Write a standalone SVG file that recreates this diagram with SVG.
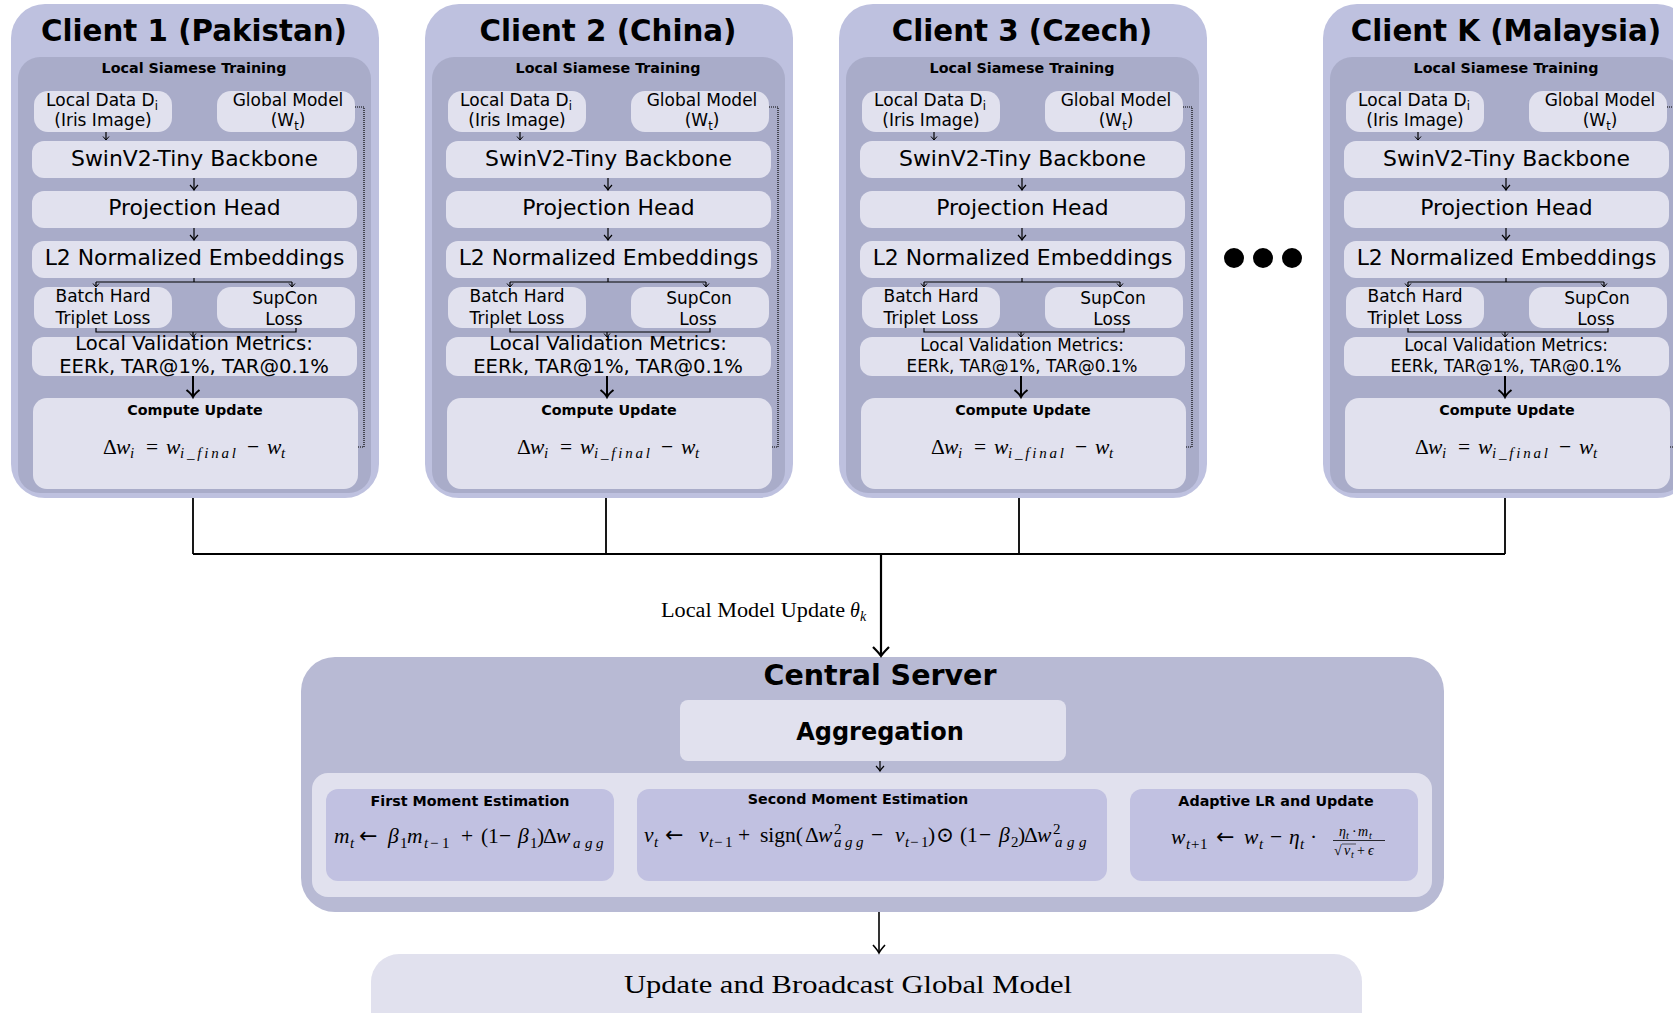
<svg xmlns="http://www.w3.org/2000/svg" width="1673" height="1013" viewBox="0 0 1673 1013">
  <style>
    .c-outer { fill: #bec1df; }
    .c-inner { fill: #a9acc9; }
    .node { fill: #e1e1ee; }
    .srv { fill: #b8bad4; }
    .panel { fill: #e1e1ee; }
    .moment { fill: #c1c1e1; }
    text { fill: #000; font-family: "DejaVu Sans", Verdana, sans-serif; }
    .h1 { font-size: 29.3px; font-weight: bold; text-anchor: middle; }
    .h2 { font-size: 24px; font-weight: bold; text-anchor: middle; }
    .h3 { font-size: 14.3px; font-weight: bold; text-anchor: middle; }
    .lbl { font-size: 21.9px; text-anchor: middle; }
    .lbl-s { font-size: 17px; text-anchor: middle; }
    .lbl-v { font-size: 19.6px; text-anchor: middle; }
    .lbl-vs { font-size: 16.8px; text-anchor: middle; }
    .sub { font-size: 11.5px; }
    .math, .serif { font-family: "Liberation Serif", "DejaVu Serif", serif; }
    .math { font-size: 21.5px; font-style: italic; }
    .math .rm { font-style: normal; }
    .math .s { font-size: 15px; }
    .math .f { font-size: 14px; }
    .math .ff { font-size: 10px; }
    .math .arr { font-family: "DejaVu Sans", sans-serif; font-style: normal; font-size: 22px; }
    .ln { fill: none; stroke: #000; stroke-width: 1.2; }
    .ln-thick { fill: none; stroke: #000; stroke-width: 2; }
    .bus { fill: none; stroke: #000; stroke-width: 1.8; }
    .dots { fill: none; stroke: #000; stroke-width: 1.2; stroke-dasharray: 1 1; }
  </style>
  <defs>
    <marker id="tipS" markerUnits="userSpaceOnUse" viewBox="-6 -5 7 10" refX="0" refY="0" markerWidth="7" markerHeight="10" orient="auto" overflow="visible">
      <path d="M-3.5,-3 L0,0 L-3.5,3" fill="none" stroke="#000" stroke-width="1"/>
    </marker>
    <marker id="tip" markerUnits="userSpaceOnUse" viewBox="-6 -5 7 10" refX="0" refY="0" markerWidth="7" markerHeight="10" orient="auto" overflow="visible">
      <path d="M-5,-4 Q-2,-1 0,0 Q-2,1 -5,4" fill="none" stroke="#000" stroke-width="1.2"/>
    </marker>
    <marker id="tipL" markerUnits="userSpaceOnUse" viewBox="-8 -7 9 14" refX="0" refY="0" markerWidth="9" markerHeight="14" orient="auto" overflow="visible">
      <path d="M-7,-6.5 Q-3,-1.5 0,0 Q-3,1.5 -7,6.5" fill="none" stroke="#000" stroke-width="2"/>
    </marker>
    <marker id="tipM" markerUnits="userSpaceOnUse" viewBox="-9 -7 10 14" refX="0" refY="0" markerWidth="10" markerHeight="14" orient="auto" overflow="visible">
      <path d="M-8,-6 Q-3,-1.5 0,0 Q-3,1.5 -8,6" fill="none" stroke="#000" stroke-width="1.6"/>
    </marker>
    <marker id="tipXL" markerUnits="userSpaceOnUse" viewBox="-10 -9 11 18" refX="0" refY="0" markerWidth="11" markerHeight="18" orient="auto" overflow="visible">
      <path d="M-9,-8 Q-3,-2 0,0 Q-3,2 -9,8" fill="none" stroke="#000" stroke-width="2.2"/>
    </marker>
  </defs>

  <rect width="1673" height="1013" fill="#fff"/>

  <!-- ===== Client 1 ===== -->
  <g id="client-1">
    <rect class="c-outer" x="11" y="4" width="368" height="494" rx="34"/>
    <text class="h1" x="194" y="41">Client 1 (Pakistan)</text>
    <g id="c1-local-training">
      <rect class="c-inner" x="18" y="57" width="353" height="436" rx="22"/>
      <text class="h3" x="194" y="73">Local Siamese Training</text>
    </g>
    <g id="c1-local-data"><rect class="node" x="34" y="91" width="138" height="41" rx="14"/><text class="lbl-s" x="102" y="106">Local Data D<tspan class="sub" dy="3.5">i</tspan></text><text class="lbl-s" x="103" y="126">(Iris Image)</text></g>
    <g id="c1-global-model"><rect class="node" x="217" y="91" width="138" height="41" rx="14"/><text class="lbl-s" x="288" y="106">Global Model</text><text class="lbl-s" x="288" y="126">(W<tspan class="sub" dy="3.5">t</tspan><tspan dy="-3.5">)</tspan></text></g>
    <g id="c1-backbone"><rect class="node" x="32" y="141" width="325" height="37" rx="12"/><text class="lbl" x="194.5" y="166">SwinV2-Tiny Backbone</text></g>
    <g id="c1-projection"><rect class="node" x="32" y="191" width="325" height="37" rx="12"/><text class="lbl" x="194.5" y="215">Projection Head</text></g>
    <g id="c1-embeddings"><rect class="node" x="32" y="241" width="325" height="37" rx="12"/><text class="lbl" x="194.5" y="265">L2 Normalized Embeddings</text></g>
    <g id="c1-triplet"><rect class="node" x="34" y="287" width="138" height="41" rx="14"/><text class="lbl-s" x="103" y="302">Batch Hard</text><text class="lbl-s" x="103" y="324">Triplet Loss</text></g>
    <g id="c1-supcon"><rect class="node" x="217" y="287" width="138" height="41" rx="14"/><text class="lbl-s" x="285" y="304">SupCon</text><text class="lbl-s" x="284" y="325">Loss</text></g>
    <g id="c1-validation"><rect class="node" x="32" y="337" width="325" height="39" rx="12"/><text class="lbl-v" x="194" y="350">Local Validation Metrics:</text><text class="lbl-v" x="194" y="373">EERk, TAR@1%, TAR@0.1%</text></g>
    <g id="c1-compute"><rect class="node" x="33" y="398" width="325" height="91" rx="14"/><text class="h3" x="195" y="415">Compute Update</text>
      <text class="math" y="454"><tspan x="103" class="rm">Δ</tspan><tspan x="116">w</tspan><tspan x="130" dy="4" class="s">i</tspan><tspan x="146" dy="-4" class="rm">=</tspan><tspan x="166">w</tspan><tspan x="180" dy="4" class="s" letter-spacing="2.8">i_final</tspan><tspan x="247" dy="-4" class="rm">−</tspan><tspan x="267">w</tspan><tspan x="281" dy="4" class="s">t</tspan></text>
    </g>
  </g>

  <!-- ===== Client 2 ===== -->
  <g id="client-2" transform="translate(414,0)">
    <rect class="c-outer" x="11" y="4" width="368" height="494" rx="34"/>
    <text class="h1" x="194" y="41">Client 2 (China)</text>
    <g id="c2-local-training">
      <rect class="c-inner" x="18" y="57" width="353" height="436" rx="22"/>
      <text class="h3" x="194" y="73">Local Siamese Training</text>
    </g>
    <g id="c2-local-data"><rect class="node" x="34" y="91" width="138" height="41" rx="14"/><text class="lbl-s" x="102" y="106">Local Data D<tspan class="sub" dy="3.5">i</tspan></text><text class="lbl-s" x="103" y="126">(Iris Image)</text></g>
    <g id="c2-global-model"><rect class="node" x="217" y="91" width="138" height="41" rx="14"/><text class="lbl-s" x="288" y="106">Global Model</text><text class="lbl-s" x="288" y="126">(W<tspan class="sub" dy="3.5">t</tspan><tspan dy="-3.5">)</tspan></text></g>
    <g id="c2-backbone"><rect class="node" x="32" y="141" width="325" height="37" rx="12"/><text class="lbl" x="194.5" y="166">SwinV2-Tiny Backbone</text></g>
    <g id="c2-projection"><rect class="node" x="32" y="191" width="325" height="37" rx="12"/><text class="lbl" x="194.5" y="215">Projection Head</text></g>
    <g id="c2-embeddings"><rect class="node" x="32" y="241" width="325" height="37" rx="12"/><text class="lbl" x="194.5" y="265">L2 Normalized Embeddings</text></g>
    <g id="c2-triplet"><rect class="node" x="34" y="287" width="138" height="41" rx="14"/><text class="lbl-s" x="103" y="302">Batch Hard</text><text class="lbl-s" x="103" y="324">Triplet Loss</text></g>
    <g id="c2-supcon"><rect class="node" x="217" y="287" width="138" height="41" rx="14"/><text class="lbl-s" x="285" y="304">SupCon</text><text class="lbl-s" x="284" y="325">Loss</text></g>
    <g id="c2-validation"><rect class="node" x="32" y="337" width="325" height="39" rx="12"/><text class="lbl-v" x="194" y="350">Local Validation Metrics:</text><text class="lbl-v" x="194" y="373">EERk, TAR@1%, TAR@0.1%</text></g>
    <g id="c2-compute"><rect class="node" x="33" y="398" width="325" height="91" rx="14"/><text class="h3" x="195" y="415">Compute Update</text>
      <text class="math" y="454"><tspan x="103" class="rm">Δ</tspan><tspan x="116">w</tspan><tspan x="130" dy="4" class="s">i</tspan><tspan x="146" dy="-4" class="rm">=</tspan><tspan x="166">w</tspan><tspan x="180" dy="4" class="s" letter-spacing="2.8">i_final</tspan><tspan x="247" dy="-4" class="rm">−</tspan><tspan x="267">w</tspan><tspan x="281" dy="4" class="s">t</tspan></text>
    </g>
  </g>

  <!-- ===== Client 3 ===== -->
  <g id="client-3" transform="translate(828,0)">
    <rect class="c-outer" x="11" y="4" width="368" height="494" rx="34"/>
    <text class="h1" x="194" y="41">Client 3 (Czech)</text>
    <g id="c3-local-training">
      <rect class="c-inner" x="18" y="57" width="353" height="436" rx="22"/>
      <text class="h3" x="194" y="73">Local Siamese Training</text>
    </g>
    <g id="c3-local-data"><rect class="node" x="34" y="91" width="138" height="41" rx="14"/><text class="lbl-s" x="102" y="106">Local Data D<tspan class="sub" dy="3.5">i</tspan></text><text class="lbl-s" x="103" y="126">(Iris Image)</text></g>
    <g id="c3-global-model"><rect class="node" x="217" y="91" width="138" height="41" rx="14"/><text class="lbl-s" x="288" y="106">Global Model</text><text class="lbl-s" x="288" y="126">(W<tspan class="sub" dy="3.5">t</tspan><tspan dy="-3.5">)</tspan></text></g>
    <g id="c3-backbone"><rect class="node" x="32" y="141" width="325" height="37" rx="12"/><text class="lbl" x="194.5" y="166">SwinV2-Tiny Backbone</text></g>
    <g id="c3-projection"><rect class="node" x="32" y="191" width="325" height="37" rx="12"/><text class="lbl" x="194.5" y="215">Projection Head</text></g>
    <g id="c3-embeddings"><rect class="node" x="32" y="241" width="325" height="37" rx="12"/><text class="lbl" x="194.5" y="265">L2 Normalized Embeddings</text></g>
    <g id="c3-triplet"><rect class="node" x="34" y="287" width="138" height="41" rx="14"/><text class="lbl-s" x="103" y="302">Batch Hard</text><text class="lbl-s" x="103" y="324">Triplet Loss</text></g>
    <g id="c3-supcon"><rect class="node" x="217" y="287" width="138" height="41" rx="14"/><text class="lbl-s" x="285" y="304">SupCon</text><text class="lbl-s" x="284" y="325">Loss</text></g>
    <g id="c3-validation"><rect class="node" x="32" y="337" width="325" height="39" rx="12"/><text class="lbl-vs" x="194" y="351">Local Validation Metrics:</text><text class="lbl-vs" x="194" y="372">EERk, TAR@1%, TAR@0.1%</text></g>
    <g id="c3-compute"><rect class="node" x="33" y="398" width="325" height="91" rx="14"/><text class="h3" x="195" y="415">Compute Update</text>
      <text class="math" y="454"><tspan x="103" class="rm">Δ</tspan><tspan x="116">w</tspan><tspan x="130" dy="4" class="s">i</tspan><tspan x="146" dy="-4" class="rm">=</tspan><tspan x="166">w</tspan><tspan x="180" dy="4" class="s" letter-spacing="2.8">i_final</tspan><tspan x="247" dy="-4" class="rm">−</tspan><tspan x="267">w</tspan><tspan x="281" dy="4" class="s">t</tspan></text>
    </g>
  </g>

  <!-- more clients elided -->
  <g id="ellipsis">
    <circle cx="1234" cy="258" r="10"/>
    <circle cx="1263" cy="258" r="10"/>
    <circle cx="1292" cy="258" r="10"/>
  </g>

  <!-- ===== Client K ===== -->
  <g id="client-k" transform="translate(1312,0)">
    <rect class="c-outer" x="11" y="4" width="368" height="494" rx="34"/>
    <text class="h1" x="194" y="41">Client K (Malaysia)</text>
    <g id="ck-local-training">
      <rect class="c-inner" x="18" y="57" width="353" height="436" rx="22"/>
      <text class="h3" x="194" y="73">Local Siamese Training</text>
    </g>
    <g id="ck-local-data"><rect class="node" x="34" y="91" width="138" height="41" rx="14"/><text class="lbl-s" x="102" y="106">Local Data D<tspan class="sub" dy="3.5">i</tspan></text><text class="lbl-s" x="103" y="126">(Iris Image)</text></g>
    <g id="ck-global-model"><rect class="node" x="217" y="91" width="138" height="41" rx="14"/><text class="lbl-s" x="288" y="106">Global Model</text><text class="lbl-s" x="288" y="126">(W<tspan class="sub" dy="3.5">t</tspan><tspan dy="-3.5">)</tspan></text></g>
    <g id="ck-backbone"><rect class="node" x="32" y="141" width="325" height="37" rx="12"/><text class="lbl" x="194.5" y="166">SwinV2-Tiny Backbone</text></g>
    <g id="ck-projection"><rect class="node" x="32" y="191" width="325" height="37" rx="12"/><text class="lbl" x="194.5" y="215">Projection Head</text></g>
    <g id="ck-embeddings"><rect class="node" x="32" y="241" width="325" height="37" rx="12"/><text class="lbl" x="194.5" y="265">L2 Normalized Embeddings</text></g>
    <g id="ck-triplet"><rect class="node" x="34" y="287" width="138" height="41" rx="14"/><text class="lbl-s" x="103" y="302">Batch Hard</text><text class="lbl-s" x="103" y="324">Triplet Loss</text></g>
    <g id="ck-supcon"><rect class="node" x="217" y="287" width="138" height="41" rx="14"/><text class="lbl-s" x="285" y="304">SupCon</text><text class="lbl-s" x="284" y="325">Loss</text></g>
    <g id="ck-validation"><rect class="node" x="32" y="337" width="325" height="39" rx="12"/><text class="lbl-vs" x="194" y="351">Local Validation Metrics:</text><text class="lbl-vs" x="194" y="372">EERk, TAR@1%, TAR@0.1%</text></g>
    <g id="ck-compute"><rect class="node" x="33" y="398" width="325" height="91" rx="14"/><text class="h3" x="195" y="415">Compute Update</text>
      <text class="math" y="454"><tspan x="103" class="rm">Δ</tspan><tspan x="116">w</tspan><tspan x="130" dy="4" class="s">i</tspan><tspan x="146" dy="-4" class="rm">=</tspan><tspan x="166">w</tspan><tspan x="180" dy="4" class="s" letter-spacing="2.8">i_final</tspan><tspan x="247" dy="-4" class="rm">−</tspan><tspan x="267">w</tspan><tspan x="281" dy="4" class="s">t</tspan></text>
    </g>
  </g>

  <!-- ===== Central server ===== -->
  <g id="central-server">
    <rect class="srv" x="301" y="657" width="1143" height="255" rx="34"/>
    <text class="h1" x="880" y="685" style="font-size:28.5px">Central Server</text>
  </g>
  <g id="aggregation">
    <rect class="node" x="680" y="700" width="386" height="61" rx="8"/>
    <text class="h2" x="880" y="740">Aggregation</text>
  </g>
  <g id="optimizer">
    <rect class="panel" x="312" y="773" width="1120" height="124" rx="16"/>
  </g>
  <g id="first-moment">
    <rect class="moment" x="326" y="789" width="288" height="92" rx="12"/>
    <text class="h3" x="470" y="806">First Moment Estimation</text>
    <text class="math" y="843"><tspan x="334">m</tspan><tspan x="350" dy="4.5" class="s">t</tspan><tspan x="359" dy="-4.5" class="arr">←</tspan><tspan x="388">β</tspan><tspan x="400" dy="4.5" class="s rm">1</tspan><tspan x="407" dy="-4.5">m</tspan><tspan x="424" dy="4.5" class="s">t</tspan><tspan x="430" class="s rm">−</tspan><tspan x="442" class="s rm">1</tspan><tspan x="461" dy="-4.5" class="rm">+</tspan><tspan x="481" class="rm">(</tspan><tspan x="488" class="rm">1</tspan><tspan x="499" class="rm">−</tspan><tspan x="518">β</tspan><tspan x="530" dy="4.5" class="s rm">1</tspan><tspan x="537" dy="-4.5" class="rm">)</tspan><tspan x="543" class="rm">Δ</tspan><tspan x="556">w</tspan><tspan x="573 585 596" dy="4.5" class="s">agg</tspan></text>
  </g>
  <g id="second-moment">
    <rect class="moment" x="637" y="789" width="470" height="92" rx="12"/>
    <text class="h3" x="858" y="804">Second Moment Estimation</text>
    <text class="math" y="842"><tspan x="644">v</tspan><tspan x="654" dy="4.5" class="s">t</tspan><tspan x="665" dy="-4.5" class="arr">←</tspan><tspan x="699">v</tspan><tspan x="709" dy="4.5" class="s">t</tspan><tspan x="714" class="s rm">−</tspan><tspan x="725" class="s rm">1</tspan><tspan x="738" dy="-4.5" class="rm">+</tspan><tspan x="760" class="rm">sign(</tspan><tspan x="805" class="rm">Δ</tspan><tspan x="818">w</tspan><tspan x="834" dy="-8.5" class="s rm">2</tspan><tspan x="834 845 856" dy="13" class="s">agg</tspan><tspan x="871" dy="-4.5" class="rm">−</tspan><tspan x="895">v</tspan><tspan x="905" dy="4.5" class="s">t</tspan><tspan x="910" class="s rm">−</tspan><tspan x="921" class="s rm">1</tspan><tspan x="928" dy="-4.5" class="rm">)</tspan><tspan x="936" class="rm">⊙</tspan><tspan x="960" class="rm">(</tspan><tspan x="967" class="rm">1</tspan><tspan x="979" class="rm">−</tspan><tspan x="999">β</tspan><tspan x="1011" dy="4.5" class="s rm">2</tspan><tspan x="1018" dy="-4.5" class="rm">)</tspan><tspan x="1024" class="rm">Δ</tspan><tspan x="1037">w</tspan><tspan x="1053" dy="-8.5" class="s rm">2</tspan><tspan x="1055 1067 1079" dy="13" class="s">agg</tspan></text>
  </g>
  <g id="adaptive-lr">
    <rect class="moment" x="1130" y="789" width="288" height="92" rx="12"/>
    <text class="h3" x="1276" y="806">Adaptive LR and Update</text>
    <text class="math" y="844"><tspan x="1171">w</tspan><tspan x="1186" dy="4.5" class="s">t</tspan><tspan x="1191" class="s rm">+</tspan><tspan x="1200" class="s rm">1</tspan><tspan x="1216" dy="-4.5" class="arr">←</tspan><tspan x="1244">w</tspan><tspan x="1259" dy="4.5" class="s">t</tspan><tspan x="1270" dy="-4.5" class="rm">−</tspan><tspan x="1289">η</tspan><tspan x="1300" dy="4.5" class="s">t</tspan><tspan x="1310" dy="-4.5" class="rm">·</tspan></text>
    <text class="math" y="836"><tspan x="1339" class="f">η</tspan><tspan x="1346" dy="3" class="ff">t</tspan><tspan x="1352" dy="-3" class="f rm">·</tspan><tspan x="1358" class="f">m</tspan><tspan x="1369" dy="3" class="ff">t</tspan></text>
    <line x1="1333" y1="840.5" x2="1385" y2="840.5" stroke="#000" stroke-width="0.8"/>
    <text class="math" y="855"><tspan x="1334" class="f rm">√</tspan><tspan x="1344" class="f">v</tspan><tspan x="1351" dy="3" class="ff">t</tspan><tspan x="1357" dy="-3" class="f rm">+</tspan><tspan x="1368" class="f">ϵ</tspan></text>
    <line x1="1342" y1="844" x2="1356" y2="844" stroke="#000" stroke-width="0.6"/>
  </g>
  <g id="broadcast">
    <rect class="node" x="371" y="954" width="991" height="100" rx="28"/>
    <text class="serif" x="624" y="993" font-size="26" textLength="448" lengthAdjust="spacingAndGlyphs">Update and Broadcast Global Model</text>
  </g>

  <!-- ===== Connectors ===== -->
  <g id="connectors">
    <g id="c1-links">
      <path class="ln" d="M106,132V140" marker-end="url(#tipS)"/>
      <path class="ln" d="M194,178V190" marker-end="url(#tip)"/>
      <path class="ln" d="M194,228V240" marker-end="url(#tip)"/>
      <path class="ln" d="M194,278V282M96,282H292"/>
      <path class="ln" d="M96,282V287" marker-end="url(#tipS)"/>
      <path class="ln" d="M292,282V287" marker-end="url(#tipS)"/>
      <path class="ln" d="M96,328V332H296V328"/>
      <path class="ln" d="M193,332V337" marker-end="url(#tipS)"/>
      <path class="ln-thick" d="M193,376V397" marker-end="url(#tipL)"/>
      <path class="dots" d="M355,107H364V447H358"/>
    </g>
    <g id="c2-links" transform="translate(414,0)">
      <path class="ln" d="M106,132V140" marker-end="url(#tipS)"/>
      <path class="ln" d="M194,178V190" marker-end="url(#tip)"/>
      <path class="ln" d="M194,228V240" marker-end="url(#tip)"/>
      <path class="ln" d="M194,278V282M96,282H292"/>
      <path class="ln" d="M96,282V287" marker-end="url(#tipS)"/>
      <path class="ln" d="M292,282V287" marker-end="url(#tipS)"/>
      <path class="ln" d="M96,328V332H296V328"/>
      <path class="ln" d="M193,332V337" marker-end="url(#tipS)"/>
      <path class="ln-thick" d="M193,376V397" marker-end="url(#tipL)"/>
      <path class="dots" d="M355,107H364V447H358"/>
    </g>
    <g id="c3-links" transform="translate(828,0)">
      <path class="ln" d="M106,132V140" marker-end="url(#tipS)"/>
      <path class="ln" d="M194,178V190" marker-end="url(#tip)"/>
      <path class="ln" d="M194,228V240" marker-end="url(#tip)"/>
      <path class="ln" d="M194,278V282M96,282H292"/>
      <path class="ln" d="M96,282V287" marker-end="url(#tipS)"/>
      <path class="ln" d="M292,282V287" marker-end="url(#tipS)"/>
      <path class="ln" d="M96,328V332H296V328"/>
      <path class="ln" d="M193,332V337" marker-end="url(#tipS)"/>
      <path class="ln-thick" d="M193,376V397" marker-end="url(#tipL)"/>
      <path class="dots" d="M355,107H364V447H358"/>
    </g>
    <g id="ck-links" transform="translate(1312,0)">
      <path class="ln" d="M106,132V140" marker-end="url(#tipS)"/>
      <path class="ln" d="M194,178V190" marker-end="url(#tip)"/>
      <path class="ln" d="M194,228V240" marker-end="url(#tip)"/>
      <path class="ln" d="M194,278V282M96,282H292"/>
      <path class="ln" d="M96,282V287" marker-end="url(#tipS)"/>
      <path class="ln" d="M292,282V287" marker-end="url(#tipS)"/>
      <path class="ln" d="M96,328V332H296V328"/>
      <path class="ln" d="M193,332V337" marker-end="url(#tipS)"/>
      <path class="ln-thick" d="M193,376V397" marker-end="url(#tipL)"/>
      <path class="dots" d="M355,107H364V447H358"/>
    </g>
    <!-- client updates gathered onto a single bus -->
    <path class="bus" d="M193,498V554M606,498V554M1019,498V554M1505,498V554M193,554H1505"/>
    <path class="bus" d="M881,554V656" style="stroke-width:2.2" marker-end="url(#tipXL)"/>
    <text class="serif" y="617" font-size="20"><tspan x="661" textLength="184" lengthAdjust="spacingAndGlyphs">Local Model Update</tspan><tspan x="850" font-style="italic">θ</tspan><tspan x="860" dy="4" font-size="14" font-style="italic">k</tspan></text>
    <path class="ln" d="M880,761V771" marker-end="url(#tip)"/>
    <path class="ln" d="M879,912V953" style="stroke-width:1.6" marker-end="url(#tipM)"/>
  </g>
</svg>
